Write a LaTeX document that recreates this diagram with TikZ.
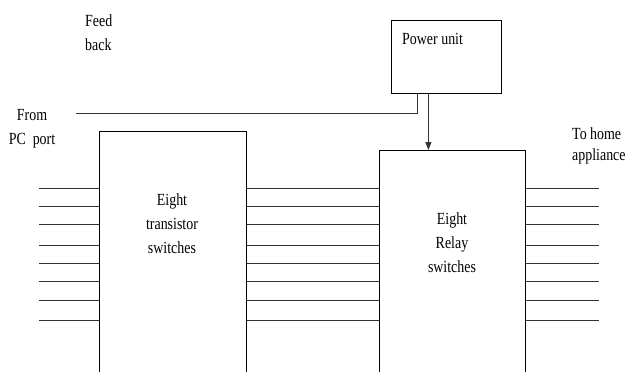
\documentclass[tikz,border=0pt]{standalone}
\usepackage{fontspec}
\setmainfont[FakeStretch=0.82]{Liberation Serif}
\usetikzlibrary{arrows.meta,positioning,calc}

\begin{document}
\begin{tikzpicture}[x=1pt,y=-1pt,
  blk/.style={draw,line width=0.8pt,inner sep=0pt},
  wire/.style={line width=1pt,draw=black!80},
  lbl/.style={inner sep=0pt,font=\fontsize{17}{24}\selectfont}]
  \useasboundingbox (0,0) rectangle (629,372); % page size
  \clip (0,0) rectangle (629,372);
  \node[blk,minimum width=110pt,minimum height=73pt,anchor=north west] (power) at (391,20) {}; % power unit box
  \node[blk,minimum width=147pt,minimum height=260pt,anchor=north west] (trans) at (99,131) {}; % transistor box
  \node[blk,minimum width=146pt,minimum height=240pt,anchor=north west] (relay) at (379,150) {}; % relay box
  \foreach \y [count=\i] in {188,206,224,245,263,281,300,320} {
    \coordinate (in\i) at (39,\y);
    \coordinate (out\i) at (599,\y);
    \draw[wire] (in\i) -- (in\i -| trans.west); % input line
    \draw[wire] (in\i -| trans.east) -- (in\i -| relay.west); % middle line
    \draw[wire] (out\i -| relay.east) -- (out\i); % output line
  }
  \coordinate (pc) at (76,113);
  \coordinate (fbk) at ([xshift=-29pt]power.south);
  \coordinate (pwrout) at ([xshift=-18pt]power.south);
  \draw[wire] (pc) -| (fbk); % feedback line
  \draw[wire,-{Triangle[length=8pt,width=6pt]}] (pwrout) -- (pwrout |- relay.north); % supply arrow
  \node[lbl,anchor=west,align=left] (feed) at (85,33) {Feed\\back};
  \node[lbl,align=center] (from) at (32,129) {From\\PC~~port};
  \node[lbl,anchor=west] (plabel) at (402,39) {Power unit};
  \node[lbl,align=center] (tlabel) at (172,224) {Eight\\transistor\\switches};
  \node[lbl,align=center] (rlabel) at (452,243) {Eight\\Relay\\switches};
  \node[lbl,anchor=west,align=left,font=\fontsize{17}{21}\selectfont] (home) at (572,146) {To home\\appliance};
\end{tikzpicture}
\end{document}
